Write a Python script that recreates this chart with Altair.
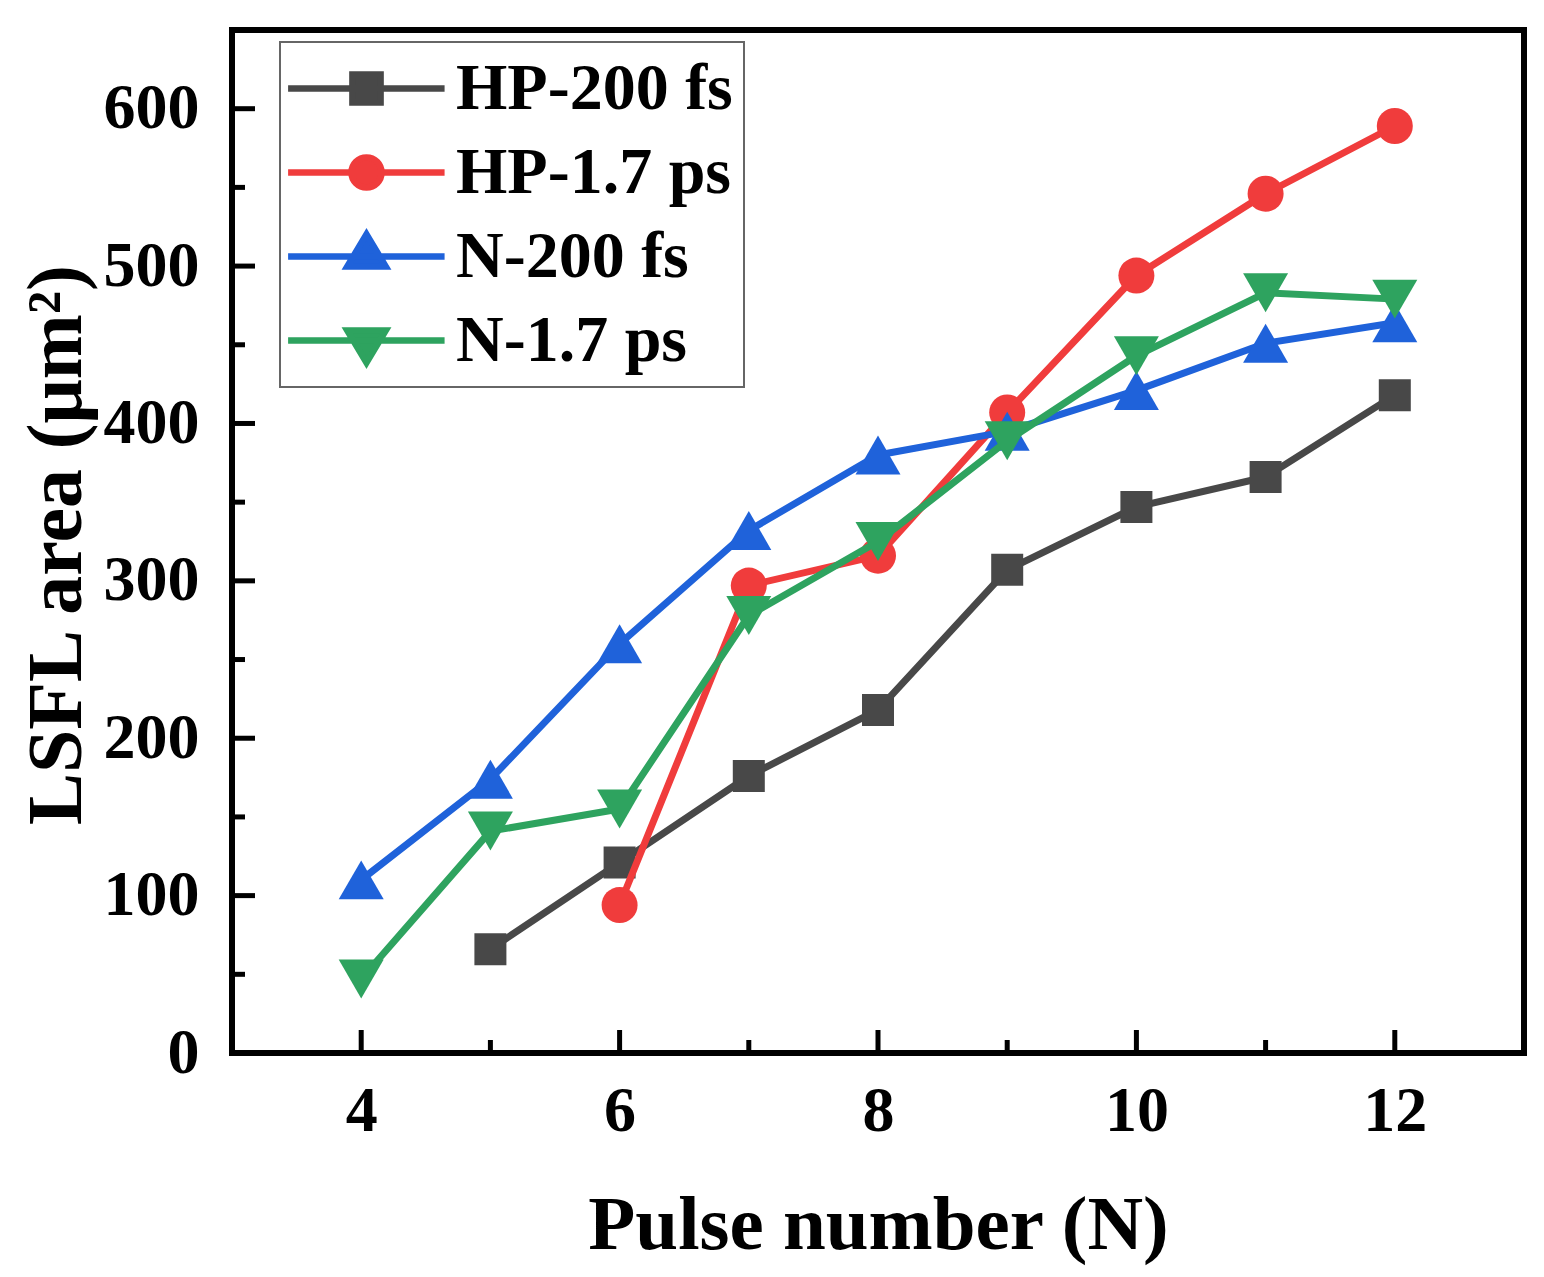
import altair as alt
import pandas as pd

series = ["HP-200 fs", "HP-1.7 ps", "N-200 fs", "N-1.7 ps"]
colors = ["#484848", "#F03C3C", "#1F62DA", "#2EA35F"]
shapes = ["square", "circle", "triangle-up", "triangle-down"]
marker_sizes = [1024, 1296, 2025, 2025]

hp200_n = [5, 6, 7, 8, 9, 10, 11, 12]
hp200_area = [66, 121, 176, 218, 307, 347, 366, 418]
hp17_n = [6, 7, 8, 9, 10, 11, 12]
hp17_area = [94, 297, 316, 407, 494, 546, 589]
n200_n = [4, 5, 6, 7, 8, 9, 10, 11, 12]
n200_area = [110, 174, 260, 332, 380, 395, 421, 451, 464]
n17_n = [4, 5, 6, 7, 8, 9, 10, 11, 12]
n17_area = [47, 141, 155, 278, 325, 389, 443, 483, 479]

x_ticks = [4, 6, 8, 10, 12]
x_minor = [5, 7, 9, 11]
y_ticks = [0, 100, 200, 300, 400, 500, 600]
y_minor = [50, 150, 250, 350, 450, 550]

# legend glyphs: a line with the marker on it (unit = sqrt(symbolSize)/2 px)
LINE = "M-2.45,0L2.44,0"
legend_paths = [
    LINE + "M-0.44,-0.44L0.44,-0.44L0.44,0.44L-0.44,0.44Z",
    LINE + "M-0.47,0A0.47,0.47,0,1,0,0.47,0A0.47,0.47,0,1,0,-0.47,0Z",
    LINE + "M0,-0.69L0.6,0.31L-0.6,0.31Z",
    LINE + "M0,0.69L0.6,-0.31L-0.6,-0.31Z",
]

FONT = "Liberation Serif"
W, H = 1292, 1023

xs = [hp200_n, hp17_n, n200_n, n17_n]
ys = [hp200_area, hp17_area, n200_area, n17_area]
frames = [pd.DataFrame({"N": x, "area": y, "series": s}) for x, y, s in zip(xs, ys, series)]
all_df = pd.concat(frames, ignore_index=True)

x_scale = alt.Scale(domain=[3, 13], nice=False, zero=False)
y_scale = alt.Scale(domain=[0, 650], nice=False)

x_enc = alt.X(
    "N:Q", scale=x_scale,
    axis=alt.Axis(values=x_ticks, format="d", ticks=False, tickSize=0, domain=False, grid=False,
                  labelFont=FONT, labelFontSize=64, labelFontWeight="bold", labelColor="black",
                  labelPadding=26, title="Pulse number (N)", titleFont=FONT, titleFontSize=77,
                  titleFontWeight="bold", titleColor="black", titleX=W / 2, titleY=195,
                  titleBaseline="alphabetic", titleAlign="center"),
)
y_enc = alt.Y(
    "area:Q", scale=y_scale,
    axis=alt.Axis(values=y_ticks, format="d", ticks=False, tickSize=0, domain=False, grid=False,
                  labelFont=FONT, labelFontSize=64, labelFontWeight="bold", labelColor="black",
                  labelPadding=33, title="LSFL area (μm²)", titleFont=FONT, titleFontSize=78,
                  titleFontWeight="bold", titleColor="black", titleX=-152, titleY=H / 2 + 3,
                  titleAngle=-90, titleBaseline="alphabetic", titleAlign="center"),
)

leg = alt.Legend(
    title=None, orient="none", legendX=48, legendY=12,
    symbolSize=4096, symbolStrokeWidth=6.5, symbolOffset=40, labelOffset=54,
    labelFont=FONT, labelFontSize=66, labelFontWeight="bold", labelColor="black",
    labelLimit=500, rowPadding=15, padding=11, strokeColor="#666666", fillColor="white",
)

legend_layer = alt.Chart(all_df).transform_filter("false").mark_point(filled=True, opacity=1).encode(
    x=x_enc, y=y_enc,
    fill=alt.Fill("series:N", scale=alt.Scale(domain=series, range=colors), legend=leg),
    stroke=alt.Stroke("series:N", scale=alt.Scale(domain=series, range=colors), legend=leg),
    shape=alt.Shape("series:N", scale=alt.Scale(domain=series, range=legend_paths), legend=leg),
)

xmaj = alt.Chart(pd.DataFrame({"N": x_ticks})).mark_tick(
    orient="vertical", size=23, thickness=5, color="black", yOffset=-11.5, opacity=1
).encode(x=x_enc, y=alt.Y(datum=0))
xmin = alt.Chart(pd.DataFrame({"N": x_minor})).mark_tick(
    orient="vertical", size=13, thickness=5, color="black", yOffset=-6.5, opacity=1
).encode(x=x_enc, y=alt.Y(datum=0))
ymaj = alt.Chart(pd.DataFrame({"area": y_ticks})).mark_tick(
    orient="horizontal", size=23, thickness=5, color="black", xOffset=11.5, opacity=1
).encode(y=y_enc, x=alt.X(datum=3))
ymin = alt.Chart(pd.DataFrame({"area": y_minor})).mark_tick(
    orient="horizontal", size=13, thickness=5, color="black", xOffset=6.5, opacity=1
).encode(y=y_enc, x=alt.X(datum=3))

layers = [legend_layer, xmaj, xmin, ymaj, ymin]
for df, c, s, sz in zip(frames, colors, shapes, marker_sizes):
    layers.append(alt.Chart(df).mark_line(color=c, strokeWidth=7, strokeJoin="round").encode(x=x_enc, y=y_enc))
    layers.append(alt.Chart(df).mark_point(filled=True, color=c, shape=s, size=sz, opacity=1).encode(x=x_enc, y=y_enc))

chart = alt.layer(*layers).properties(
    width=W, height=H, autosize="none",
    padding={"left": 224, "top": 22, "right": 12, "bottom": 216},
    background="white",
).configure_view(stroke="black", strokeWidth=6).configure_legend(strokeWidth=2)

chart.save("out.html", embed_options={"renderer": "svg", "actions": False})
